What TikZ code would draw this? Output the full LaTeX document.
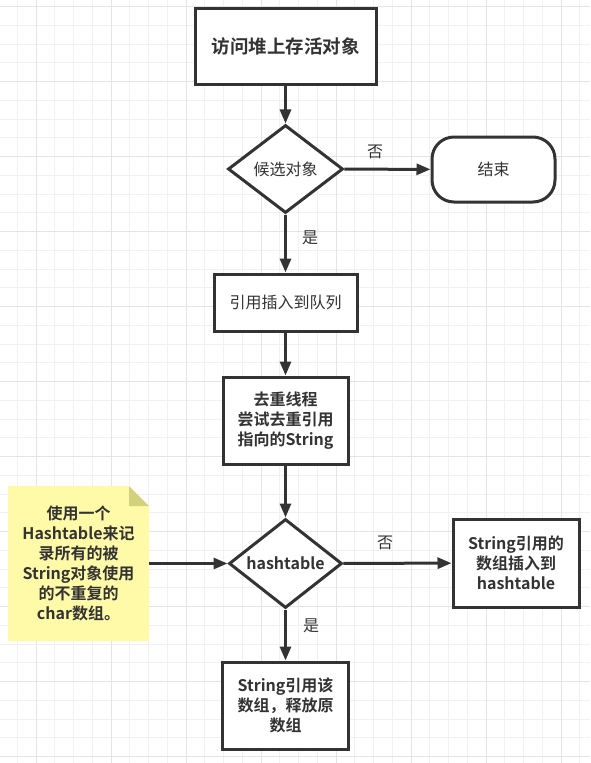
\documentclass[tikz,border=0pt]{standalone}
\usepackage{fontspec}
\setmainfont{Noto Sans CJK SC}[BoldFont={Noto Sans CJK SC Bold}]
\usetikzlibrary{shapes.geometric,arrows.meta}
\definecolor{ink}{HTML}{333333}
\definecolor{gridminor}{HTML}{F1F1F1}
\definecolor{gridmajor}{HTML}{E4E4E4}
\definecolor{notefill}{HTML}{FFFAA8}
\definecolor{notefold}{HTML}{D3D07E}
\tikzset{
  minorline/.style={draw=gridminor,line width=1pt},
  majorline/.style={draw=gridmajor,line width=1pt},
  base/.style={draw=ink,line width=3pt,fill=white,inner sep=0pt,align=center,text=ink,font=\fontsize{16}{20}\selectfont},
  boldbase/.style={base,font=\fontsize{16}{20}\selectfont\bfseries},
  boxnode/.style={base,rectangle},
  decision/.style={base,diamond,aspect=1.3},
  terminal/.style={base,rectangle,rounded corners=22pt},
  lbl/.style={text=ink,font=\fontsize{16}{20}\selectfont,inner sep=0pt},
  notetext/.style={text=ink,font=\fontsize{16}{20}\selectfont\bfseries,align=center,inner sep=0pt,minimum width=141pt,minimum height=155pt},
  flow/.style={draw=ink,line width=3pt,-{Triangle[length=14pt,width=11pt]}},
}
\begin{document}
\begin{tikzpicture}[x=1pt,y=-1pt]
\useasboundingbox (0,0) rectangle (590,763);
\fill[white] (0,0) rectangle (590,763);
% grid
\foreach \i in {0,...,32} \draw[minorline] ({-1.5+\i*18.75},0) -- ++(0,763);
\foreach \i in {0,...,41} \draw[minorline] (0,{-12.05+\i*18.75}) -- ++(590,0);
\foreach \i in {0,...,7} \draw[majorline] ({36+\i*75},0) -- ++(0,763);
\foreach \i in {0,...,10} \draw[majorline] (0,{6.7+\i*75}) -- ++(590,0);
% note
\fill[notefill] (8,486) -- (129,486) -- (149,506) -- (149,641) -- (8,641) -- cycle;
\fill[notefold] (129,486) -- (149,506) -- (129,506) -- cycle;
\node[notetext] (note) at (78.5,563.5) {使用一个\\Hashtable来记\\录所有的被\\String对象使用\\的不重复的\\char数组。};
% nodes
\node[boxnode,minimum width=181pt,minimum height=76pt,font=\fontsize{18.5}{22}\selectfont\bfseries] (top) at (285.5,46) {访问堆上存活对象};
\node[decision,minimum width=115pt,minimum height=88pt] (d1) at (285.5,169) {候选对象};
\node[terminal,minimum width=123pt,minimum height=65pt] (end) at (493.5,169.5) {结束};
\node[boxnode,minimum width=143pt,minimum height=57pt] (queue) at (285.5,302.5) {引用插入到队列};
\node[boxnode,boldbase,minimum width=125pt,minimum height=87pt] (dedup) at (285.5,420.5) {去重线程\\尝试去重引用\\指向的String};
\node[decision,boldbase,diamond,aspect=1.3,minimum width=113pt,minimum height=89pt] (d2) at (285.5,563.5) {hashtable};
\node[boxnode,boldbase,minimum width=126pt,minimum height=88pt] (insert) at (516,563) {String引用的\\数组插入到\\hashtable};
\node[boxnode,boldbase,minimum width=126pt,minimum height=87pt] (release) at (285.5,705.5) {String引用该\\数组，释放原\\数组};
% connectors
\draw[flow] (top) -- (d1);
\draw[flow] (d1) -- (end);
\draw[flow] (d1) -- (queue);
\draw[flow] (queue) -- (dedup);
\draw[flow] (dedup) -- (d2);
\draw[flow] (note.east) -- (d2.west);
\draw[flow] (d2) -- (insert);
\draw[flow] (d2) -- (release);
% labels
\node[lbl] (no1) at (375,152) {否};
\node[lbl] (yes1) at (310,238) {是};
\node[lbl] (no2) at (385,543) {否};
\node[lbl] (yes2) at (311,626) {是};
\end{tikzpicture}
\end{document}
